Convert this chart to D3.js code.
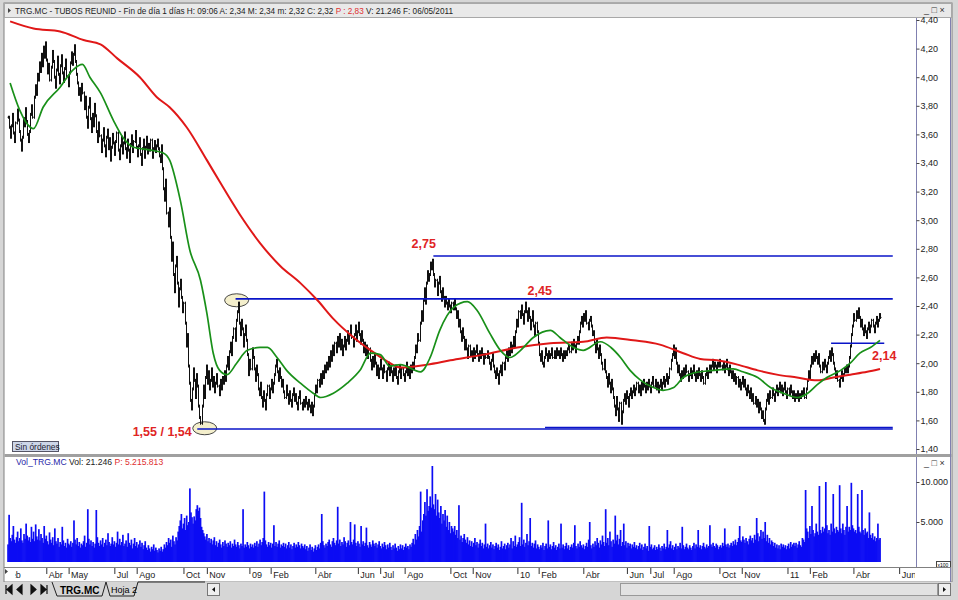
<!DOCTYPE html>
<html>
<head>
<meta charset="utf-8">
<script src="https://cdnjs.cloudflare.com/ajax/libs/d3/7.8.5/d3.min.js"></script>
<style>
  body { margin: 0; background: #d6d6d6; }
  svg { display: block; }
  text { font-family: "Liberation Sans", Arial, sans-serif; }
</style>
</head>
<body>
<svg id="chart" width="958" height="600"></svg>
<script>
"use strict"

// daily closes, cents (TRG.MC, Feb 2008 - 06/05/2011), one per trading session
var closes = [
372,365,358,366,374,361,355,368,377,370, 362,356,349,358,371,366,378,369,360,355,
362,374,380,372,386,394,388,402,398,410, 404,416,408,421,414,424,412,403,409,398,
407,418,411,400,393,405,414,402,396,408, 415,403,397,406,412,401,394,403,410,417,
409,416,422,411,402,396,388,392,384,395, 389,378,386,372,365,379,385,371,362,374,
366,381,373,362,355,368,359,348,356,364, 352,345,358,363,350,357,342,351,360,354,
346,355,361,349,343,352,358,347,354,361, 350,344,356,349,341,353,359,348,355,362,
351,345,352,357,346,339,350,356,344,351, 358,347,353,349,356,344,350,355,348,352,
356,350,345,341,352,336,322,314,328,305, 296,308,288,272,284,262,250,268,274,256,
240,252,258,246,236,242,228,212,220,198, 186,174,168,182,196,188,176,192,184,170,
162,158,170,184,176,190,198,186,194,182, 188,196,184,190,180,186,192,184,178,188,
182,190,186,194,188,198,204,196,208,214, 206,218,224,216,230,236,242,228,220,230,
224,212,220,226,216,206,192,202,196,210, 204,196,188,198,192,182,178,186,176,170,
180,174,168,178,184,176,182,188,180,186, 192,198,202,194,188,196,190,184,188,180,
176,184,178,172,180,174,170,178,182,174, 178,172,168,176,180,172,168,174,170,176,
172,168,174,170,166,172,164,170,178,184, 180,188,184,192,186,194,190,198,194,200,
196,204,198,208,202,212,206,214,208,218, 212,220,210,216,206,212,218,210,216,222,
214,220,226,218,212,220,226,216,222,228, 220,214,222,216,208,214,206,212,204,210,
202,196,204,198,206,200,192,198,190,196, 202,196,190,198,194,188,196,200,192,198,
194,188,196,192,198,190,186,194,198,190, 196,192,188,194,200,192,196,190,198,194,
200,196,204,212,208,220,216,228,236,230, 244,252,242,256,264,258,262,270,266,272,
262,254,258,248,256,260,250,244,252,246, 240,246,242,238,244,240,236,242,238,244,
238,232,236,226,230,222,216,224,218,210, 216,210,204,212,206,208,202,210,204,208,
212,206,202,208,204,210,206,200,206,204, 208,204,200,196,202,206,198,194,190,196,
192,186,194,198,192,200,196,204,208,202, 210,206,214,208,212,218,212,222,230,226,
236,232,240,234,228,236,242,236,230,238, 232,224,230,236,226,220,228,222,214,206,
202,208,200,198,204,210,206,202,208,204, 206,210,204,208,204,210,206,208,204,210,
206,202,208,204,208,206,210,212,208,214, 210,216,212,208,214,218,214,222,228,232,
226,234,230,236,228,224,230,232,226,220, 222,214,208,216,210,204,212,206,200,196,
202,194,190,184,192,186,180,188,182,176, 170,164,176,168,160,172,158,166,174,178,
172,180,176,170,178,182,176,180,184,178, 182,186,180,184,178,186,182,188,184,180,
186,182,188,184,180,186,190,184,188,182, 186,180,184,188,182,186,190,184,188,192,
186,190,196,202,206,212,204,210,200,194, 198,192,188,194,190,196,192,198,194,188,
192,196,190,194,198,192,188,194,190,196, 192,188,194,190,186,192,196,190,194,198,
194,198,202,196,200,198,194,200,198,202, 198,196,200,194,198,202,196,192,198,194,
190,194,188,192,186,190,184,188,182,186, 190,184,188,182,178,184,180,176,182,174,
178,172,176,170,174,166,172,168,162,166, 160,158,168,174,178,172,180,176,182,178,
174,180,184,178,182,186,180,184,178,182, 186,180,176,182,178,184,180,176,180,174,
178,176,180,174,178,176,180,178,182,176, 182,188,194,190,198,204,200,206,202,208,
204,200,206,198,194,200,196,202,198,194, 200,204,208,202,210,206,200,196,190,194,
188,184,190,194,188,192,196,194,198,194, 198,204,212,220,226,234,230,236,232,238,
232,226,230,224,220,226,222,218,224,228, 222,226,230,226,222,228,232,226,230,234,
232
];

// daily volume, hundreds of axis units (axis shown x100)
var volumes = [
22,59,30,26,34,45,28,24,31,38, 26,30,42,27,24,35,29,48,33,27,
31,25,44,29,38,26,47,32,28,41, 27,35,30,24,45,29,33,26,22,37,
28,24,31,21,42,26,23,30,19,25, 22,44,27,20,24,18,29,23,21,26,
19,24,52,28,22,30,20,25,18,23, 21,26,33,19,24,66,29,22,27,20,
25,18,23,65,31,24,20,27,22,30, 19,24,28,21,36,25,20,23,31,22,
26,19,24,38,22,29,21,25,34,20, 23,27,19,36,24,21,28,17,23,30,
20,25,18,22,27,19,24,16,21,26, 18,15,21,17,13,19,16,22,14,18,
15,12,17,14,19,13,16,22,18,25, 21,30,24,28,19,33,26,22,31,27,
38,45,52,60,42,48,55,40,58,46, 50,92,62,56,48,57,52,66,71,64,
68,55,44,40,36,32,28,35,26,30, 24,29,22,27,31,21,26,19,24,28,
22,18,25,20,27,23,19,24,21,26, 18,23,20,28,22,19,25,21,17,23,
20,66,18,22,19,25,21,17,23,19, 22,18,24,20,26,19,23,28,21,25,
30,88,27,22,19,25,21,24,18,23, 46,20,25,19,23,27,18,22,20,24,
19,23,17,21,25,18,22,16,20,24, 18,22,19,25,21,17,23,20,18,22,
16,20,14,18,22,15,19,13,17,21, 15,19,22,17,24,60,26,21,18,23,
20,25,28,22,19,26,30,24,21,27, 69,23,28,20,25,22,31,26,19,24,
27,21,50,25,22,28,47,24,20,26, 23,19,45,22,26,20,24,43,21,18,
25,22,19,27,23,20,24,18,22,26, 20,17,23,19,25,21,16,22,18,24,
19,15,21,17,23,18,14,20,16,22, 17,21,15,19,23,18,20,16,22,19,
24,29,22,35,28,40,32,45,88,38, 52,60,75,58,91,64,70,82,68,120,
72,66,85,58,78,62,55,70,48,60, 52,65,44,58,40,50,36,45,42,38,
45,34,40,30,71,28,33,25,30,35, 28,24,31,22,27,20,26,19,24,30,
21,25,18,23,28,20,24,17,22,48, 19,23,17,21,25,18,22,16,20,24,
18,22,15,19,26,17,20,23,16,21, 24,18,22,30,17,26,20,33,19,22,
25,31,20,74,22,28,19,24,35,21, 26,55,20,24,18,23,27,17,22,19,
16,21,18,24,15,20,23,17,52,19, 22,16,20,25,18,21,15,19,23,17,
48,18,22,16,20,24,17,21,15,19, 22,18,24,46,20,17,23,19,26,21,
18,22,16,20,24,19,28,50,21,17, 23,19,26,21,30,24,18,27,22,33,
25,20,66,24,30,21,38,26,19,28, 23,58,27,34,22,29,40,20,25,48,
21,26,18,24,20,23,17,22,19,25, 18,21,16,20,24,17,22,15,19,23,
17,20,14,45,19,22,16,18,21,15, 19,16,22,18,14,20,17,23,16,19,
40,18,22,26,17,21,15,19,23,16, 20,18,24,17,44,21,16,19,23,18,
16,21,18,15,20,24,17,22,19,40, 18,21,16,20,24,19,17,22,18,20,
46,22,19,24,20,18,23,21,16,19, 21,18,24,20,42,22,19,23,18,21,
24,20,26,22,28,21,25,30,45,27, 25,32,28,24,30,26,22,29,33,27,
30,24,34,28,55,36,26,32,40,29, 38,30,50,26,34,24,30,22,27,25,
20,24,18,22,17,21,16,23,19,22, 18,21,16,20,23,17,25,19,22,24,
20,24,18,22,26,21,19,30,28,25, 90,42,38,30,45,35,70,40,32,36,
48,38,34,95,40,36,44,38,42,100, 46,36,40,34,48,38,85,42,36,44,
40,38,96,42,36,48,40,34,44,70, 38,44,40,99,46,42,38,40,36,85,
44,38,36,90,40,34,42,36,38,30, 62,34,30,36,28,32,26,30,48,28,
30
];

// moving averages: session index -> price
var greenIdx = [2,11,21,24,33,49,61,70,77,87,99,108,118,134,146,152,162,171,181,187,193,199,206,215,225,237,244,253,262,275,287,294,306,319,331,341,350,359,369,388,397,406,419,432,441,453,463,472,482,494,510,519,532,541,557,567,576,585,595,607,616,626,635,644,651,663,682,691,705,717,729,742,752,761,770,783,792,801,811,820];
var greenVal = [3.96,3.77,3.65,3.64,3.79,3.93,4.05,4.09,4.00,3.89,3.70,3.58,3.51,3.49,3.47,3.42,3.14,2.79,2.58,2.35,2.07,1.95,1.92,2.00,2.09,2.11,2.11,2.04,1.95,1.86,1.79,1.76,1.79,1.86,1.95,2.07,2.06,1.98,1.99,1.94,2.04,2.23,2.39,2.43,2.37,2.21,2.09,2.04,2.09,2.18,2.23,2.18,2.11,2.09,2.15,2.11,2.04,1.95,1.88,1.83,1.81,1.83,1.90,1.93,1.94,1.95,1.96,1.94,1.90,1.83,1.79,1.76,1.79,1.85,1.90,1.95,2.00,2.07,2.11,2.16];
var redIdx = [2,24,49,71,87,103,124,140,152,168,187,199,218,237,256,275,291,306,325,341,355,369,394,416,447,479,510,541,563,588,613,635,651,667,686,705,723,742,761,776,792,808,820];
var redVal = [4.39,4.34,4.32,4.26,4.23,4.13,4.00,3.86,3.79,3.65,3.42,3.27,3.04,2.84,2.68,2.56,2.44,2.31,2.18,2.09,2.02,1.97,1.99,2.02,2.06,2.11,2.14,2.15,2.18,2.16,2.13,2.07,2.03,2.02,1.99,1.95,1.92,1.90,1.88,1.90,1.92,1.94,1.96];

// month ticks on the time axis (session index of first session)
var tickIdx = [-5,36,57,100,121,165,187,227,247,289,329,350,373,416,437,479,499,541,582,604,626,669,690,733,754,795,838];
var tickLab = ["Feb","Abr","May","Jul","Ago","Oct","Nov","09","Feb","Abr","Jun","Jul","Ago","Oct","Nov","10","Feb","Abr","Jun","Jul","Ago","Oct","Nov","11","Feb","Abr","Jun"];

var priceTicks = [1.40,1.60,1.80,2.00,2.20,2.40,2.60,2.80,3.00,3.20,3.40,3.60,3.80,4.00,4.20,4.40];
var volTicks = [50, 100];

// support / resistance lines: level, first session, last session
var levels = [
  {v: 2.75, from: 400, to: 832},
  {v: 2.45, from: 214, to: 832},
  {v: 1.54, from: 178, to: 832},
  {v: 1.55, from: 505, to: 832},
  {v: 2.14, from: 774, to: 824}
];
var notes = [
  {t: "2,75", i: 391, v: 2.806},
  {t: "2,45", i: 500, v: 2.477},
  {t: "1,55 / 1,54", i: 145, v: 1.491},
  {t: "2,14", i: 824, v: 2.022}
];
var circles = [{i: 215, v: 2.44}, {i: 185, v: 1.545}];

var svg = d3.select("#chart");
var fmt = function(v) { return v.toFixed(2).replace(".", ","); };

var x = d3.scaleLinear().domain([0, closes.length - 1]).range([8, 880]);
var y = d3.scaleLinear().domain([1.40, 4.40]).range([449, 20]);
var yv = d3.scaleLinear().domain([0, 100]).range([562, 482]);

// window chrome
svg.append("rect").attr("x", 0).attr("y", 0).attr("width", 958).attr("height", 600).attr("fill", "#d6d6d6");
svg.append("rect").attr("x", 4).attr("y", 3).attr("width", 948).attr("height", 579).attr("fill", "#fff").attr("stroke", "#808080");
svg.append("rect").attr("x", 4.5).attr("y", 3.5).attr("width", 947).attr("height", 14).attr("fill", "#e9e9e9").attr("stroke", "#a8a8a8");
svg.append("rect").attr("x", 4.5).attr("y", 454).attr("width", 947).attr("height", 3).attr("fill", "#a0a0a0");

var header = svg.append("text").attr("x", 15).attr("y", 14).attr("font-size", 8.2).attr("fill", "#222");
header.append("tspan").text("TRG.MC - TUBOS REUNID - Fin de día 1 días H: 09:06 A: 2,34 M: 2,34 m: 2,32 C: 2,32 ");
header.append("tspan").attr("fill", "#e03030").text("P : 2,83");
header.append("tspan").text(" V: 21.246 F: 06/05/2011");
svg.append("path").attr("d", "M8,8 L11,10.5 L8,13 Z").attr("fill", "#444");

var vhead = svg.append("text").attr("x", 16).attr("y", 465).attr("font-size", 8.6);
vhead.append("tspan").attr("fill", "#2828a8").text("Vol_TRG.MC ");
vhead.append("tspan").attr("fill", "#222").text("Vol: 21.246 ");
vhead.append("tspan").attr("fill", "#e03030").text("P: 5.215.813");

[10, 463].forEach(function(ty) {
  svg.append("text").attr("x", 924).attr("y", ty + 3).attr("font-size", 9).attr("fill", "#333").text("_ □ ×");
});

// price panel
var gp = svg.append("g");

gp.selectAll(".circ").data(circles).join("ellipse")
  .attr("cx", d => x(d.i)).attr("cy", d => y(d.v))
  .attr("rx", 12).attr("ry", 6.5)
  .attr("fill", "#f4efcc").attr("stroke", "#333").attr("stroke-width", 0.9);

gp.selectAll(".bar").data(closes).join("path")
  .attr("d", function(c, i) {
    var o = i ? closes[i - 1] : c;
    var xi = Math.round(x(i)) + 0.5;
    var hi = y(Math.max(o, c) / 100) - 1.5, lo = y(Math.min(o, c) / 100) + 1.5;
    return "M" + xi + "," + hi + "V" + lo + "M" + (xi - 1) + "," + y(o / 100) + "h1M" + xi + "," + y(c / 100) + "h1";
  })
  .attr("stroke", "#111").attr("stroke-width", 1).attr("fill", "none");

gp.selectAll(".lvl").data(levels).join("line")
  .attr("x1", d => x(d.from)).attr("x2", d => x(d.to))
  .attr("y1", d => y(d.v)).attr("y2", d => y(d.v))
  .attr("stroke", "#0a14c8").attr("stroke-width", 1.6);

var line = d3.line().x(d => x(d[0])).y(d => y(d[1])).curve(d3.curveMonotoneX);
gp.append("path").attr("d", line(d3.zip(redIdx, redVal)))
  .attr("fill", "none").attr("stroke", "#e01818").attr("stroke-width", 2);
gp.append("path").attr("d", line(d3.zip(greenIdx, greenVal)))
  .attr("fill", "none").attr("stroke", "#199019").attr("stroke-width", 1.7);

gp.selectAll(".note").data(notes).join("text")
  .attr("x", d => x(d.i)).attr("y", d => y(d.v))
  .attr("text-anchor", "middle").attr("font-size", 12.5).attr("font-weight", "bold")
  .attr("fill", "#e02424").text(d => d.t);

// price axis
svg.append("line").attr("x1", 916.5).attr("x2", 916.5).attr("y1", 18).attr("y2", 454).attr("stroke", "#8080b0");
svg.append("line").attr("x1", 950.5).attr("x2", 950.5).attr("y1", 18).attr("y2", 582).attr("stroke", "#8080b0");
var ay = svg.append("g").attr("transform", "translate(916.5,0)")
  .call(d3.axisRight(y).tickValues(priceTicks).tickFormat(fmt).tickSize(3));
ay.select(".domain").remove();
ay.selectAll("text").attr("font-size", 9).attr("fill", "#222").attr("x", 4).attr("font-family", "Liberation Sans, Arial");
ay.selectAll("line").attr("stroke", "#444");

// "Sin órdenes" button
svg.append("rect").attr("x", 12.5).attr("y", 441.5).attr("width", 46).attr("height", 10).attr("fill", "#cdd6e8").attr("stroke", "#556");
svg.append("text").attr("x", 15).attr("y", 449.5).attr("font-size", 8.4).attr("fill", "#223").text("Sin órdenes");

// volume panel
svg.selectAll(".vb").data(volumes).join("rect")
  .attr("x", (d, i) => x(i) - 0.8).attr("width", 1.7)
  .attr("y", d => yv(d)).attr("height", d => yv(0) - yv(d))
  .attr("fill", "#0c0cf4");

svg.append("line").attr("x1", 916.5).attr("x2", 916.5).attr("y1", 457).attr("y2", 567).attr("stroke", "#8080b0");
var av = svg.append("g").attr("transform", "translate(916.5,0)")
  .call(d3.axisRight(yv).tickValues(volTicks).tickFormat(d => d3.format(",")(d * 100).replace(",", ".")).tickSize(3));
av.select(".domain").remove();
av.selectAll("text").attr("font-size", 9).attr("fill", "#222").attr("x", 4).attr("font-family", "Liberation Sans, Arial");
av.selectAll("line").attr("stroke", "#444");
svg.append("rect").attr("x", 936.5).attr("y", 561.5).attr("width", 14).attr("height", 6).attr("fill", "#fff").attr("stroke", "#444");
svg.append("text").attr("x", 937.5).attr("y", 566.5).attr("font-size", 5).text("x100");

// time axis
svg.append("line").attr("x1", 4).attr("x2", 951).attr("y1", 567.5).attr("y2", 567.5).attr("stroke", "#808080");
svg.append("clipPath").attr("id", "tclip").append("rect").attr("x", 15).attr("y", 560).attr("width", 900).attr("height", 25);
var ax = svg.append("g").attr("clip-path", "url(#tclip)").append("g").attr("transform", "translate(0,568)")
  .call(d3.axisBottom(x).tickValues(tickIdx).tickFormat((d, i) => tickLab[i]).tickSize(6));
ax.select(".domain").remove();
ax.selectAll("line").attr("stroke", "#333");
ax.selectAll("text").attr("text-anchor", "start").attr("x", 2).attr("y", 4).attr("dy", "0.71em")
  .attr("font-size", 9).attr("fill", "#222").attr("font-family", "Liberation Sans, Arial");
svg.append("path").attr("d", "M5,569 L8,571.5 L5,574 Z").attr("fill", "#444");

// sheet tabs
var tabs = svg.append("g");
tabs.append("rect").attr("x", 0).attr("y", 582).attr("width", 958).attr("height", 18).attr("fill", "#d6d6d6");
tabs.append("path").attr("d", "M6,585V594M12,585L7,589.5L12,594Z M22,585L17,589.5L22,594Z M31,585L36,589.5L31,594Z M41,585L46,589.5L41,594Z M47,585V594")
  .attr("stroke", "#111").attr("fill", "#111").attr("stroke-width", 1.2);
tabs.append("path").attr("d", "M52,582 L57,596 H102 L106,582 M106,582 L110,596 H134 L138,582 H205")
  .attr("fill", "none").attr("stroke", "#222");
tabs.append("text").attr("x", 60).attr("y", 593.5).attr("font-size", 10).attr("font-weight", "bold").text("TRG.MC");
tabs.append("text").attr("x", 111).attr("y", 593).attr("font-size", 9).text("Hoja 2");
tabs.append("rect").attr("x", 207.5).attr("y", 583.5).attr("width", 12).attr("height", 12).attr("fill", "#eee").attr("stroke", "#777");
tabs.append("path").attr("d", "M215,587L212,589.5L215,592Z").attr("fill", "#111");
tabs.append("rect").attr("x", 620.5).attr("y", 583.5).attr("width", 317).attr("height", 12).attr("fill", "#e2e2e2").attr("stroke", "#999");
tabs.append("rect").attr("x", 938.5).attr("y", 583.5).attr("width", 12).attr("height", 12).attr("fill", "#eee").attr("stroke", "#777");
tabs.append("path").attr("d", "M943,587L946,589.5L943,592Z").attr("fill", "#111");
</script>
</body>
</html>
